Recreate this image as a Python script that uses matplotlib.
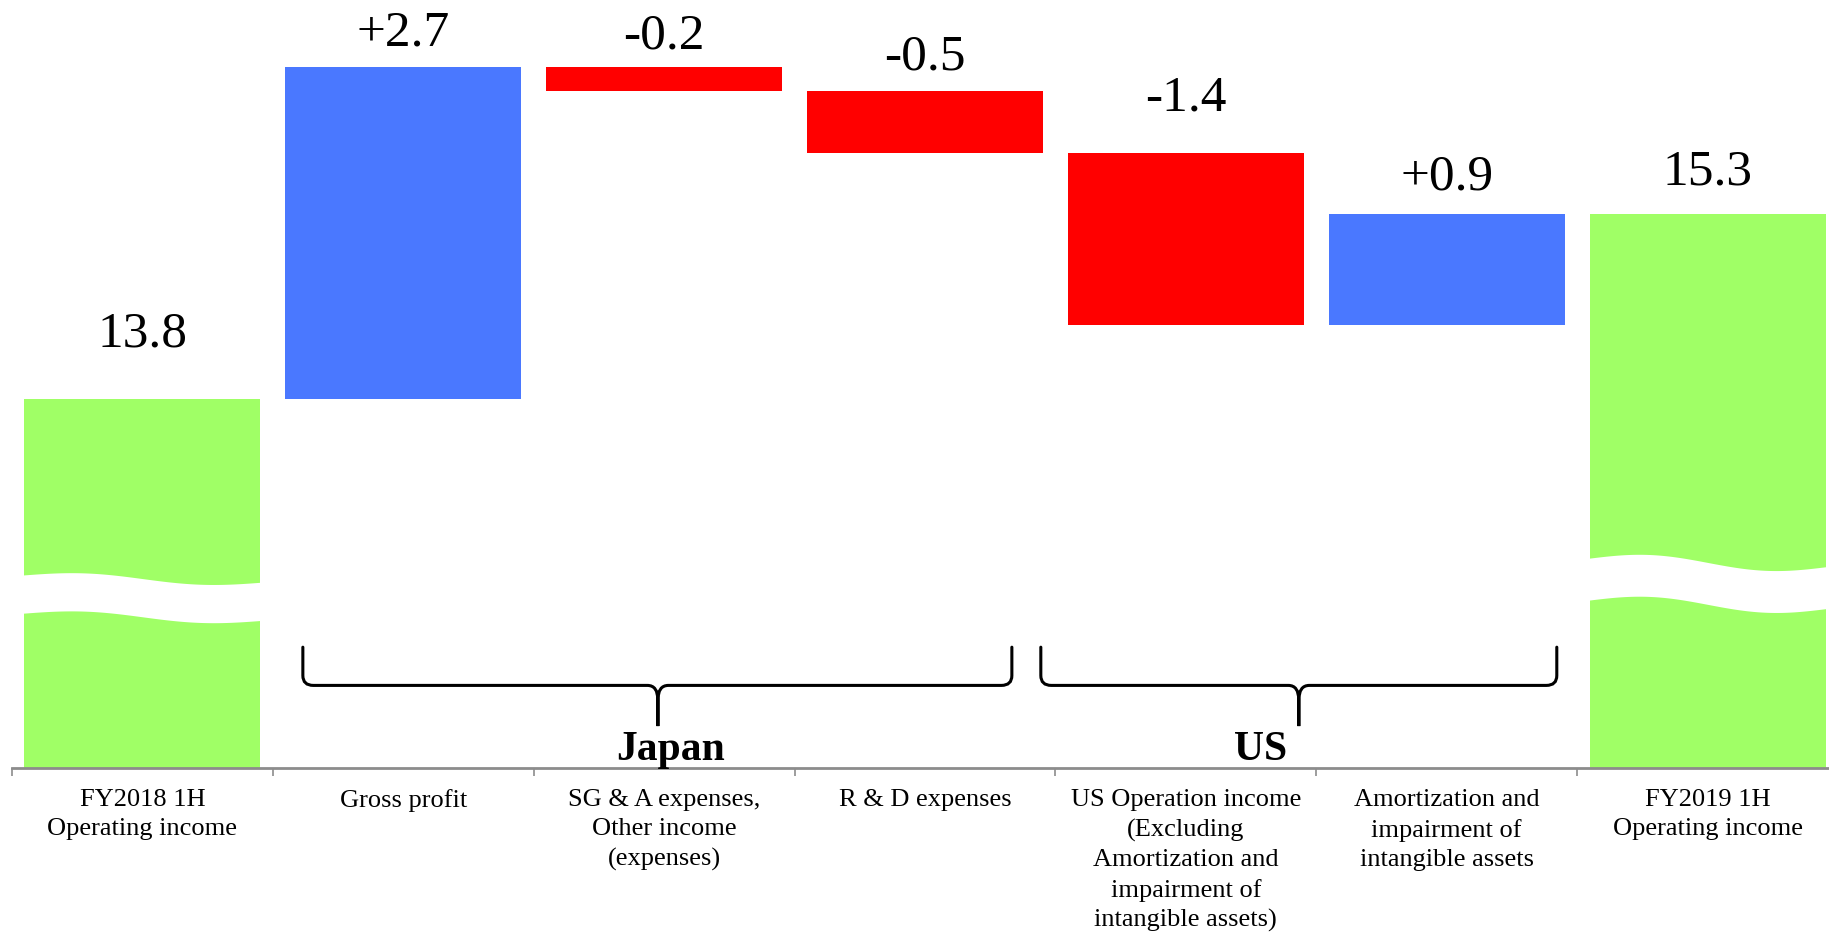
import matplotlib
matplotlib.use('Agg')
import matplotlib.pyplot as plt
import numpy as np
from matplotlib.path import Path
from matplotlib.patches import PathPatch

plt.rcParams['font.family'] = ['Liberation Serif', 'DejaVu Serif']

# data
categories = ['FY2018 1H\nOperating income', 'Gross profit',
              'SG & A expenses,\nOther income\n(expenses)', 'R & D expenses',
              'US Operation income\n(Excluding\nAmortization and\nimpairment of\nintangible assets)',
              'Amortization and\nimpairment of\nintangible assets',
              'FY2019 1H\nOperating income']
start_value = 13.8
deltas = [2.7, -0.2, -0.5, -1.4, 0.9]
end_value = 15.3
value_labels = ['13.8', '+2.7', '-0.2', '-0.5', '-1.4', '+0.9', '15.3']
group_names = ['Japan', 'US']

# layout / style
label_gap_px = [53, 21, 18, 22, 42, 25, 30]
brace_spans = [(0.615, 3.333, 1.976), (3.444, 5.422, 4.433)]
group_text_x = [2.026, 4.287]
green, blue, red = '#A0FF66', '#4A78FF', '#FF0000'
px_per_unit = 123.3

# waterfall geometry
bottoms, heights, colors, tops = [0], [start_value], [green], [start_value]
running = start_value
for d in deltas:
    if d >= 0:
        bottoms.append(running)
        heights.append(d)
        colors.append(blue)
        tops.append(running + d)
    else:
        bottoms.append(running + d)
        heights.append(-d)
        colors.append(red)
        tops.append(running)
    running += d
bottoms.append(0)
heights.append(end_value)
colors.append(green)
tops.append(end_value)

W, H = 1829, 942
fig = plt.figure(figsize=(W / 100, H / 100), dpi=100)
ax = fig.add_axes([12 / W, (H - 768) / H, (1838 - 12) / W, 768 / H])

x = np.arange(len(categories))
bar_w = 0.905
ax.bar(x, heights, bottom=bottoms, width=bar_w, color=colors, zorder=2)

ax.set_xlim(-0.5, 6.5)
ax.set_ylim(10.81, 17.04)

# value labels
for i, (lab, top) in enumerate(zip(value_labels, tops)):
    ax.annotate(lab, (i, top), xytext=(0, label_gap_px[i] * 0.72),
                textcoords='offset points', ha='center', va='baseline',
                fontsize=37, color='black')

# axis break bands on the two totals
breaks = [(0, 12.375, 0.31, 4, 7), (6, 12.51, 0.34, 6, 8)]
for i, base, thick, amp, tilt in breaks:
    xs = np.linspace(i - bar_w / 2 - 0.01, i + bar_w / 2 + 0.01, 100)
    t = (xs - xs[0]) / (xs[-1] - xs[0])
    off = (-amp * np.sin(2 * np.pi * t) + tilt * t) / px_per_unit
    ax.fill_between(xs, base - off, base - thick - off, color='white',
                    lw=0, zorder=3)

# braces
def brace(x0, x1, xc, ytop, yh, ytip):
    rx, ry = 0.04, 0.08
    cx, cy = 0.04, 0.12
    verts = [(x0, ytop), (x0, yh + ry), (x0, yh), (x0 + rx, yh),
             (xc - cx, yh), (xc, yh), (xc, yh - cy), (xc, ytip),
             (xc, yh - cy), (xc, yh), (xc + cx, yh),
             (x1 - rx, yh), (x1, yh), (x1, yh + ry), (x1, ytop)]
    codes = [Path.MOVETO, Path.LINETO, Path.CURVE3, Path.CURVE3,
             Path.LINETO, Path.CURVE3, Path.CURVE3, Path.LINETO,
             Path.LINETO, Path.CURVE3, Path.CURVE3,
             Path.LINETO, Path.CURVE3, Path.CURVE3, Path.LINETO]
    ax.add_patch(PathPatch(Path(verts, codes), fill=False, lw=2.2,
                           edgecolor='black', zorder=4, capstyle='round'))

for x0, x1, xc in brace_spans:
    brace(x0, x1, xc, 11.79, 11.48, 11.15)

for name, gx in zip(group_names, group_text_x):
    ax.text(gx, 10.875, name, ha='center', va='baseline', fontsize=30,
            fontweight='bold', zorder=5)

# axes styling
for s in ['top', 'left', 'right']:
    ax.spines[s].set_visible(False)
ax.spines['bottom'].set_color('#8C8C8C')
ax.spines['bottom'].set_linewidth(2)
ax.set_yticks([])
ax.set_xticks(x)
ax.set_xticklabels(categories, fontsize=19, linespacing=1.43)
ax.set_xticks(np.arange(-0.5, 7, 1), minor=True)
ax.tick_params(axis='x', which='major', length=0, pad=15)
ax.tick_params(axis='x', which='minor', length=5.5, width=1.2,
               color='#8C8C8C', direction='out')

fig.savefig('out.png', dpi=100, facecolor='white')
